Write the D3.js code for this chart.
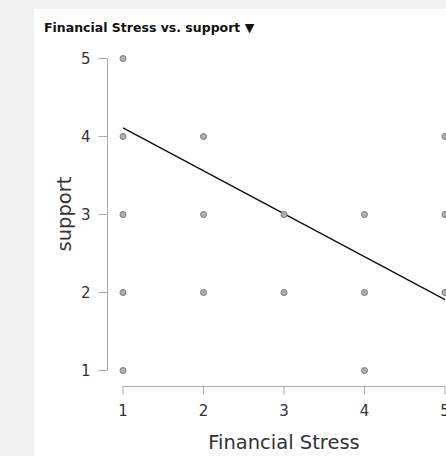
<!DOCTYPE html>
<html><head><meta charset="utf-8">
<script src="https://cdn.jsdelivr.net/npm/d3@7"></script>
<style>
html,body{margin:0;padding:0;background:#f2f2f2;}
svg{display:block;}
</style></head>
<body>
<script>
const title = "Financial Stress vs. support";
const xLabel = "Financial Stress";
const yLabel = "support";
const xTicks = [1, 2, 3, 4, 5];
const yTicks = [1, 2, 3, 4, 5];
const stress = [1, 1, 1, 1, 1, 2, 2, 2, 3, 3, 4, 4, 4, 5, 5, 5];
const support = [5, 4, 3, 2, 1, 4, 3, 2, 3, 2, 3, 2, 1, 4, 3, 2];
const fitX = [1, 5];
const fitY = [4.11, 1.91];

const W = 446, H = 456;
const svg = d3.select("body").append("svg").attr("width", W).attr("height", H);
svg.append("rect").attr("x", 34).attr("y", 9).attr("width", W - 34).attr("height", H - 9).attr("fill", "#ffffff");

svg.append("text").attr("x", 44).attr("y", 32)
  .attr("font-family", "DejaVu Sans").attr("font-weight", "bold").attr("font-size", 12.5)
  .attr("fill", "#111").text(title + " \u25BC");

const x = d3.scaleLinear().domain([1, 5]).range([123, 445]);
const y = d3.scaleLinear().domain([1, 5]).range([370.5, 58.5]);

const axCol = "#aaaaaa";
// Y axis
const gy = svg.append("g").attr("transform", "translate(107.5,0)");
gy.append("line").attr("x1", 0).attr("x2", 0).attr("y1", y(5)).attr("y2", y(1)).attr("stroke", axCol);
gy.selectAll("line.t").data(yTicks).join("line").attr("class", "t")
  .attr("x1", -9).attr("x2", 0).attr("y1", d => y(d)).attr("y2", d => y(d)).attr("stroke", axCol);
gy.selectAll("text").data(yTicks).join("text")
  .attr("x", -17).attr("y", d => y(d)).attr("dy", "0.36em").attr("text-anchor", "end")
  .attr("font-family", "DejaVu Sans").attr("font-size", 15).attr("fill", "#333").text(d => d);

// X axis
const gx = svg.append("g").attr("transform", "translate(0,386.5)");
gx.append("line").attr("x1", x(1)).attr("x2", x(5)).attr("y1", 0).attr("y2", 0).attr("stroke", axCol);
gx.selectAll("line.t").data(xTicks).join("line").attr("class", "t")
  .attr("x1", d => x(d)).attr("x2", d => x(d)).attr("y1", 0).attr("y2", 8).attr("stroke", axCol);
gx.selectAll("text").data(xTicks).join("text")
  .attr("x", d => x(d)).attr("y", 29).attr("text-anchor", "middle")
  .attr("font-family", "DejaVu Sans").attr("font-size", 15).attr("fill", "#333").text(d => d);

svg.append("text").attr("x", 284).attr("y", 449).attr("text-anchor", "middle")
  .attr("font-family", "DejaVu Sans").attr("font-size", 19.5).attr("fill", "#333").text(xLabel);
svg.append("text").attr("transform", "translate(71,214) rotate(-90)").attr("text-anchor", "middle")
  .attr("font-family", "DejaVu Sans").attr("font-size", 19.5).attr("fill", "#333").text(yLabel);

// fit line
svg.append("line").attr("x1", x(fitX[0])).attr("y1", y(fitY[0])).attr("x2", x(fitX[1])).attr("y2", y(fitY[1]))
  .attr("stroke", "#111").attr("stroke-width", 1.4);

// points
svg.selectAll("circle").data(stress.map((s, i) => [s, support[i]])).join("circle")
  .attr("cx", d => x(d[0])).attr("cy", d => y(d[1])).attr("r", 3)
  .attr("fill", "#b0b0b0").attr("stroke", "#777").attr("stroke-width", 1);
</script>
</body></html>
